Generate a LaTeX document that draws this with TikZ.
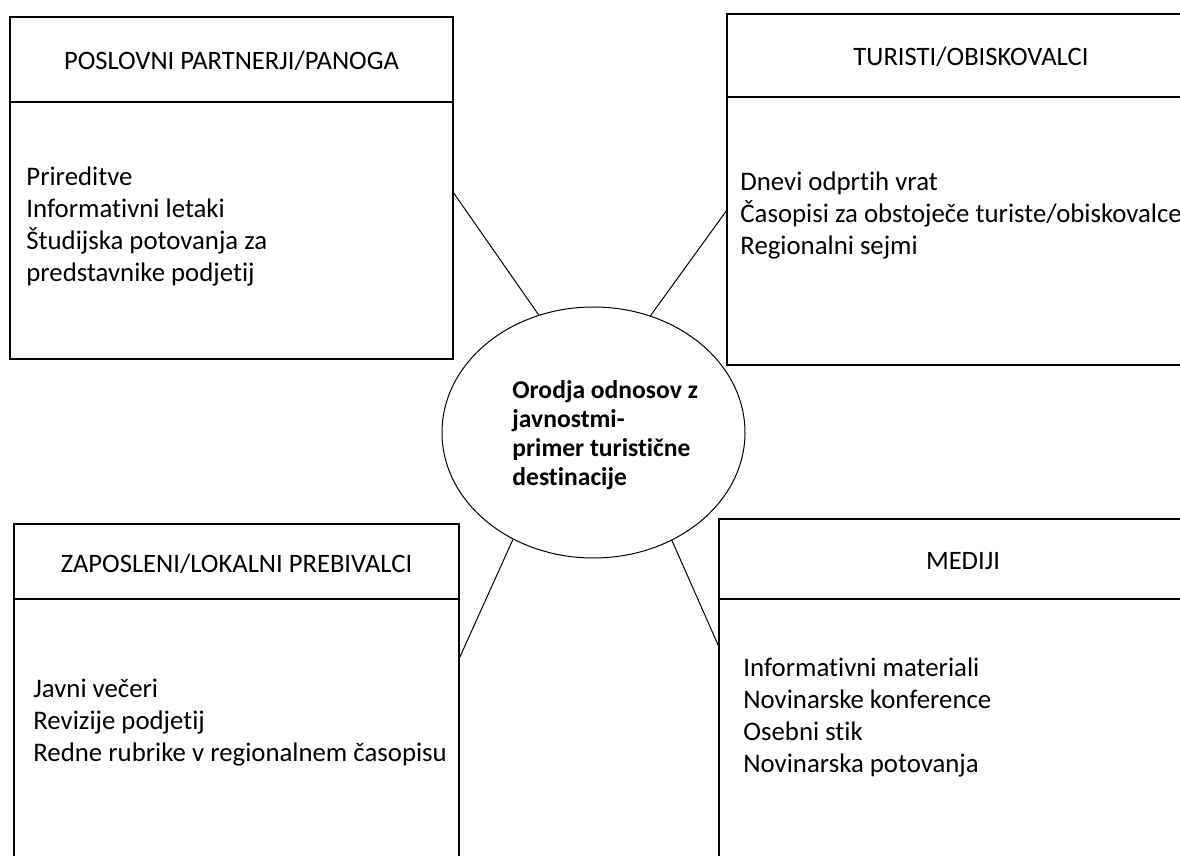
\documentclass[tikz,border=0pt]{standalone}
\usepackage{fontspec}
\setmainfont{Carlito}[Ligatures=NoCommon]
\usepackage{tikz}
\usetikzlibrary{positioning,shapes.geometric}

\begin{document}
\begin{tikzpicture}[x=.5pt, y=-.5pt,
	box/.style={draw, line width=.7pt, inner sep=0pt, outer sep=0pt},
	headbox/.style={box, text height=11pt, text depth=.5pt, font=\fontsize{13.3}{16}\selectfont},
	listtext/.style={align=left, inner sep=0pt, anchor=west, font=\fontsize{13.4}{16}\selectfont},
	hub/.style={draw, ellipse, line width=.5pt, inner sep=0pt, minimum width=151.5pt, minimum height=125.5pt},
	hubtext/.style={align=left, inner sep=0pt, anchor=west, font=\bfseries\fontsize{12.8}{14.5}\selectfont},
	link/.style={line width=.5pt}]
	\useasboundingbox (0,0) rectangle (1180,856);
	\clip (0,0) rectangle (1180,856);

	% poslovni partnerji
	\node[headbox, minimum width=221.5pt, minimum height=42.5pt] (tl-head) at (231.5,59.5) {POSLOVNI PARTNERJI/PANOGA};
	\node[box, minimum width=221.5pt, minimum height=128.5pt, below=0pt of tl-head] (tl-body) {};
	\node[listtext] (tl-list) at (26,226.5) {Prireditve\\Informativni letaki\\Študijska potovanja za\\predstavnike podjetij};

	% turisti
	\node[headbox, minimum width=244pt, minimum height=41.5pt] (tr-head) at (971,55.5) {TURISTI/OBISKOVALCI};
	\node[box, minimum width=244pt, minimum height=134pt, below=0pt of tr-head] (tr-body) {};
	\node[listtext] (tr-list) at (740,215) {Dnevi odprtih vrat\\Časopisi za obstoječe turiste/obiskovalce\\Regionalni sejmi};

	% zaposleni
	\node[headbox, minimum width=222.5pt, minimum height=37.5pt] (bl-head) at (236.5,561.5) {ZAPOSLENI/LOKALNI PREBIVALCI};
	\node[box, minimum width=222.5pt, minimum height=140.5pt, below=0pt of bl-head] (bl-body) {};
	\node[listtext] (bl-list) at (33,723) {Javni večeri\\Revizije podjetij\\Redne rubrike v regionalnem časopisu};

	% mediji
	\node[headbox, minimum width=244pt, minimum height=40pt] (br-head) at (963,559) {MEDIJI};
	\node[box, minimum width=244pt, minimum height=140.5pt, below=0pt of br-head] (br-body) {};
	\node[listtext] (br-list) at (743,717) {Informativni materiali\\Novinarske konference\\Osebni stik\\Novinarska potovanja};

	% sredina
	\node[hub] (hub) at (593.5,432.5) {};
	\node[hubtext] (hub-text) at (512,435) {Orodja odnosov z\\javnostmi-\\primer turistične\\destinacije};

	\draw[link] ([yshift=-45pt]tl-body.north east) -- (hub.115);
	\draw[link] ([yshift=-56.5pt]tr-body.north west) -- (hub.64);
	\draw[link] ([yshift=-30pt]bl-body.north east) -- (hub.233);
	\draw[link] ([yshift=-24pt]br-body.north west) -- (hub.306);
\end{tikzpicture}
\end{document}
